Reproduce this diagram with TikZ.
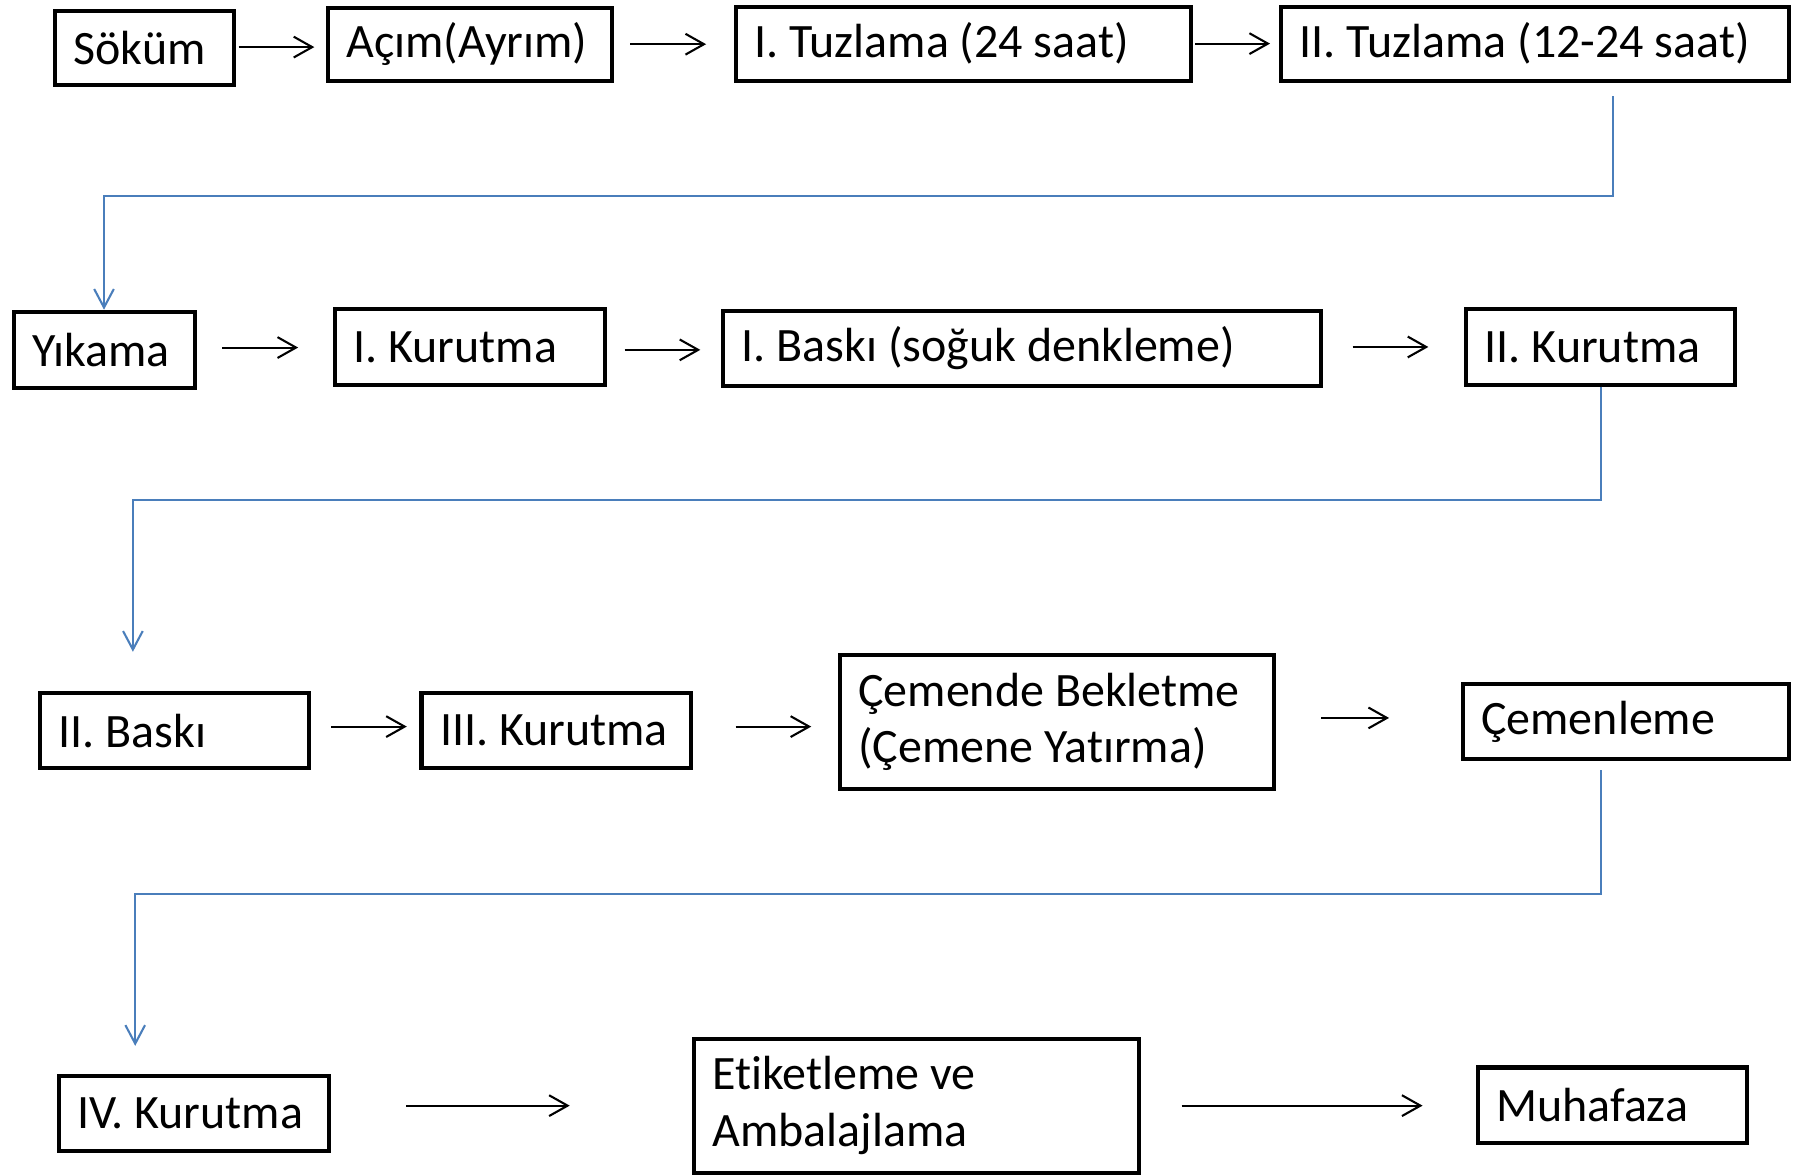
\documentclass[tikz,border=0pt]{standalone}
\usepackage{fontspec}
\setmainfont{Carlito}[Ligatures=NoCommon]
\usepackage{tikz}
\usetikzlibrary{arrows.meta}
\definecolor{lineblue}{HTML}{4A7EBB}

\begin{document}
\begin{tikzpicture}[x=1pt,y=-1pt,
        box/.style={draw, line width=3.5pt, anchor=north west, inner xsep=16pt, inner ysep=0pt,
                align=left, font=\fontsize{41.5pt}{49pt}\selectfont\frenchspacing,
                execute at begin node={\spaceskip=0pt\xspaceskip=0pt\relax}},
        arr/.style={line width=1.8pt, -{Straight Barb[length=16pt,width=18pt]}},
        bl/.style={draw=lineblue, line width=1.8pt, -{Straight Barb[length=16pt,width=17pt]}}]
        \useasboundingbox (0,0) rectangle (1568,1017);
        \node   (sok) [box, minimum width=155pt, minimum height=64pt, text width=123pt] at (46,8)     {Söküm};
        \node   (acim) [box, minimum width=246pt, minimum height=63pt, text width=214pt] at (282,5)    {Açım(Ayrım)};
        \node   (tuz1) [box, minimum width=394pt, minimum height=64pt, text width=362pt] at (635,4)    {I. Tuzlama (24 saat)};
        \node   (tuz2) [box, minimum width=439pt, minimum height=64pt, text width=407pt] at (1107,4)   {II. Tuzlama (12-24 saat)};
        \node   (yik) [box, minimum width=157pt, minimum height=66pt, text width=125pt] at (10,268)    {Yıkama};
        \node   (kur1) [box, minimum width=234pt, minimum height=65pt, text width=202pt] at (288,266)  {I. Kurutma};
        \node   (bas1) [box, minimum width=517pt, minimum height=65pt, text width=485pt] at (624,267)  {I. Baskı (soğuk denkleme)};
        \node   (kur2) [box, minimum width=233pt, minimum height=65pt, text width=201pt] at (1267,266) {II. Kurutma};
        \node   (bas2) [box, minimum width=233pt, minimum height=65pt, text width=201pt] at (33,598)   {II. Baskı};
        \node   (kur3) [box, minimum width=233pt, minimum height=65pt, text width=201pt] at (363,598)  {III. Kurutma};
        \node   (cemb) [box, minimum width=370pt, minimum height=116pt, text width=344pt] at (725,565) {Çemende Bekletme\\(Çemene Yatırma)};
        \node   (cem) [box, minimum width=282pt, minimum height=65pt, text width=250pt] at (1264,590)  {Çemenleme};
        \node   (kur4) [box, minimum width=234pt, minimum height=65pt, text width=202pt] at (49,929)  {IV. Kurutma};
        \node   (etk) [box, minimum width=385pt, minimum height=116pt, text width=353pt] at (599,897)  {Etiketleme ve\\Ambalajlama};
        \node   (muh) [box, minimum width=233pt, minimum height=65pt, text width=201pt] at (1277,922) {Muhafaza};
        \coordinate (c1) at (1396,170);
        \coordinate (c2) at (90,170);
        \coordinate (c3) at (115,433);
        \coordinate (c4) at (1385,774);
        \coordinate (c5) at (117,774);
        \draw[arr, shorten <=2pt, shorten >=10pt] ([yshift=1pt]sok.east) -- ([yshift=1pt]sok.east -| acim.west);
        \draw[arr, shorten <=14pt, shorten >=24pt] (acim.east) -- (acim.east -| tuz1.west);
        \draw[arr, shorten <=2pt, shorten >=8pt] (tuz1.east) -- (tuz1.east -| tuz2.west);
        \draw[arr, shorten <=22pt, shorten >=30pt] ([yshift=2pt]yik.east) -- ([yshift=2pt]yik.east -| kur1.west);
        \draw[arr, shorten <=15pt, shorten >=18pt] ([yshift=-2.5pt]kur1.east) -- ([yshift=-2.5pt]kur1.east -| bas1.west);
        \draw[arr, shorten <=26pt, shorten >=31pt] ([yshift=1pt]bas1.east) -- ([yshift=1pt]bas1.east -| kur2.west);
        \draw[arr, shorten <=17pt, shorten >=11pt] ([yshift=3.5pt]bas2.east) -- ([yshift=3.5pt]bas2.east -| kur3.west);
        \draw[arr, shorten <=37pt, shorten >=23pt] ([yshift=3.5pt]kur3.east) -- ([yshift=3.5pt]kur3.east -| cemb.west);
        \draw[arr, shorten <=39pt, shorten >=62pt] ([yshift=3.5pt]cemb.east) -- ([yshift=3.5pt]cemb.east -| cem.west);
        \draw[arr, shorten <=65pt, shorten >=106pt] ([yshift=6.5pt]kur4.east) -- ([yshift=6.5pt]kur4.east -| etk.west);
        \draw[arr, shorten <=35pt, shorten >=46pt] (etk.east) -- (etk.east -| muh.west);
        \draw[bl, shorten <=12pt] (tuz2.south -| c1) -- (c1) -- (c2) -- (c2 |- yik.north);
        \draw[bl, shorten >=34pt] (kur2.south) |- (c3) -- (c3 |- bas2.north);
        \draw[bl, shorten <=8pt, shorten >=24pt] (cem.south -| c4) -- (c4) -- (c5) -- (c5 |- kur4.north);
    \end{tikzpicture}
\end{document}
